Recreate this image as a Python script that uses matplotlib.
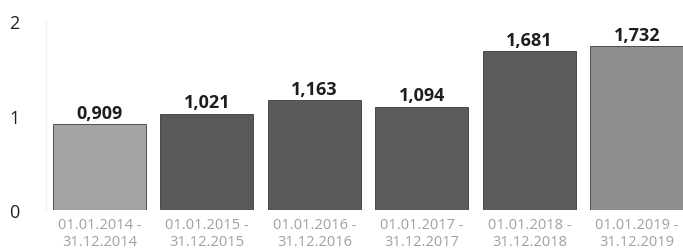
import matplotlib.pyplot as plt

periods = ["01.01.2014 -\n31.12.2014", "01.01.2015 -\n31.12.2015", "01.01.2016 -\n31.12.2016",
           "01.01.2017 -\n31.12.2017", "01.01.2018 -\n31.12.2018", "01.01.2019 -\n31.12.2019"]
values = [0.909, 1.021, 1.163, 1.094, 1.681, 1.732]
labels = ["0,909", "1,021", "1,163", "1,094", "1,681", "1,732"]
colors = ["#a3a3a3", "#595959", "#5a5a5a", "#5b5b5b", "#5c5c5c", "#8e8e8e"]

plt.rcParams['font.family'] = ['Open Sans', 'DejaVu Sans']

fig = plt.figure(figsize=(6.83, 2.51), dpi=100)
ax = fig.add_axes([45.75 / 683, 40 / 251, (683 - 45.75) / 683, 189 / 251])

x = range(len(values))
bars = ax.bar(x, values, width=0.865, color=colors, edgecolor="#3a3a3a", linewidth=0.6)

for i, (v, lab) in enumerate(zip(values, labels)):
    ax.text(i, v + 0.025, lab, ha="center", va="bottom", fontsize=13,
            fontweight="bold", color="#1e1e1e")

ax.set_xlim(-0.5, 5.43)
ax.set_ylim(0, 2)
ax.set_yticks([0, 1, 2])
ax.set_yticklabels(["0", "1", "2"], fontsize=13, color="#222222")
ax.set_xticks(list(x))
ax.set_xticklabels(periods, fontsize=10.5, color="#a0a0a0", linespacing=1.15)
ax.tick_params(axis="y", length=0, pad=19)
ax.tick_params(axis="x", length=0, pad=5)

for s in ["top", "right", "bottom"]:
    ax.spines[s].set_visible(False)
ax.spines["left"].set_color("#f0f0f0")

fig.savefig("out.png", dpi=100)
